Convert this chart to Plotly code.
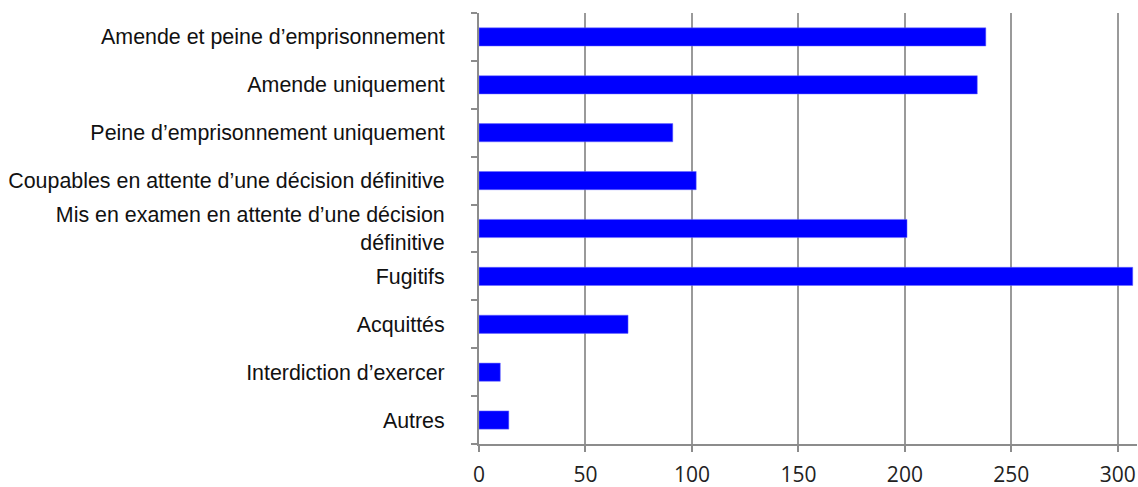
import plotly.graph_objects as go

categories = [
    "Amende et peine d’emprisonnement",
    "Amende uniquement",
    "Peine d’emprisonnement uniquement",
    "Coupables en attente d’une décision définitive",
    "Mis en examen en attente d’une décision<br>définitive",
    "Fugitifs",
    "Acquittés",
    "Interdiction d’exercer",
    "Autres",
]
values = [238, 234, 91, 102, 201, 307, 70, 10, 14]
x_ticks = [0, 50, 100, 150, 200, 250, 300]

fig = go.Figure(go.Bar(
    y=categories, x=values, orientation="h",
    marker=dict(color="#0000FF", line=dict(color="#6A6AFF", width=0.5)),
    width=0.38,
))

fig.update_layout(
    width=1138, height=487,
    margin=dict(l=479, r=1, t=13, b=43),
    paper_bgcolor="white", plot_bgcolor="white",
    showlegend=False,
    font=dict(family="Liberation Sans, Arial", size=21.4, color="#111111"),
    bargap=0.6,
)
fig.update_yaxes(
    categoryorder="array", categoryarray=categories[::-1],
    autorange=False, range=[-0.5, len(categories) - 0.5],
    showline=True, linecolor="#8C8C8C", linewidth=2,
    ticks="outside", tickson="boundaries", ticklen=6, tickcolor="#8C8C8C", tickwidth=2,
    ticklabelstandoff=28, showgrid=False, automargin=False,
)
fig.update_xaxes(
    range=[0, 309], tickvals=x_ticks,
    showline=True, linecolor="#8C8C8C", linewidth=2,
    ticks="outside", ticklen=6, tickcolor="#8C8C8C", tickwidth=2,
    showgrid=True, gridcolor="#9A9A9A", gridwidth=2, zeroline=False,
    ticklabelstandoff=5, automargin=False,
    tickfont=dict(family="Open Sans, DejaVu Sans", size=21, color="#222222"),
)

fig.write_html("out.html")
